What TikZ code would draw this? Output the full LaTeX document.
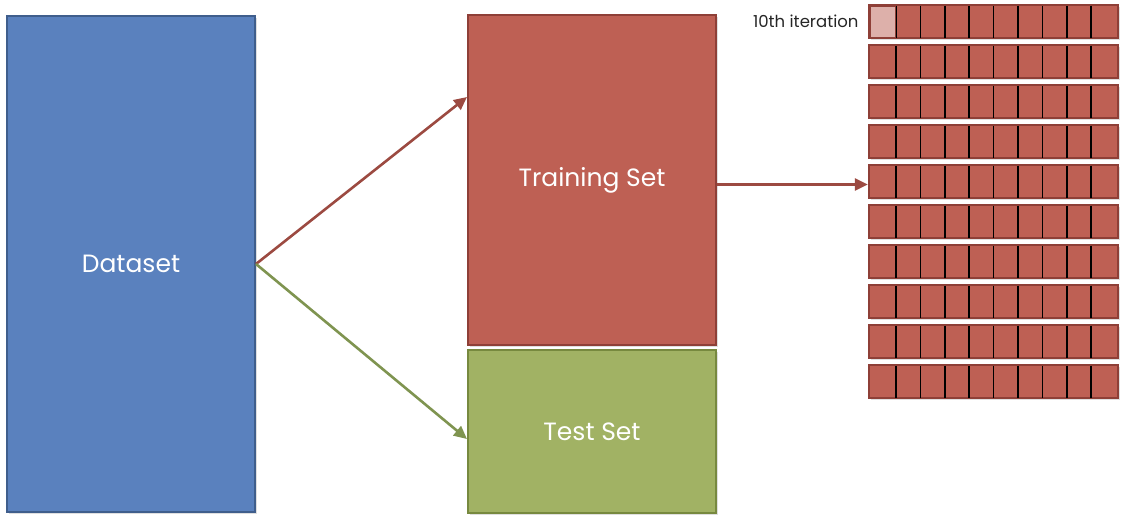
\documentclass[tikz,border=0pt]{standalone}
\usepackage{fontspec}
\setmainfont{Poppins}
\usetikzlibrary{arrows.meta,shadows}
\definecolor{dsfill}{HTML}{5A81BE}
\definecolor{dsline}{HTML}{3F5E8C}
\definecolor{trfill}{HTML}{BE6054}
\definecolor{trline}{HTML}{8E3F37}
\definecolor{tefill}{HTML}{A1B264}
\definecolor{teline}{HTML}{77893F}
\definecolor{redarrow}{HTML}{9C4A41}
\definecolor{greenarrow}{HTML}{7F9450}
\definecolor{pinkcell}{HTML}{DDB0AA}
\begin{document}
\begin{tikzpicture}[x=1pt,y=-1pt,
  bigbox/.style={draw, line width=2.6pt, minimum width=248pt, inner sep=0pt,
    font=\fontsize{25}{30}\selectfont, text=white,
    drop shadow={shadow xshift=1.5pt, shadow yshift=-1.5pt, opacity=0.25}},
  rowbox/.style={draw=trline, fill=trfill, line width=2.4pt, minimum width=249pt, minimum height=33pt, inner sep=0pt,
    drop shadow={shadow xshift=1.5pt, shadow yshift=-1.5pt, opacity=0.25}},
  conn/.style={line width=2.6pt, -{Triangle[length=13pt,width=12pt]}},
  divider/.style={black, line width=1.6pt}]
\useasboundingbox (0,0) rectangle (1124,523);
\node[bigbox, draw=dsline, fill=dsfill, minimum height=496pt] (ds) at (131,264) {Dataset};
\node[bigbox, draw=trline, fill=trfill, minimum height=330pt] (tr) at (592,180) {Training Set};
\node[bigbox, draw=teline, fill=tefill, minimum height=163pt] (te) at (592,431.5) {Test Set};
\coordinate (dsr) at (256,264);
\coordinate (trin) at (467,97);
\coordinate (tein) at (467,439);
\coordinate (trout) at (717,184.5);
\foreach \i in {0,...,9}{
  \node[rowbox] (r\i) at (993.5,{21.5+40*\i}) {};
  \foreach \k in {0,...,8}{
    \draw[divider] ({896+24.4*\k},{21.5+40*\i-16}) -- ({896+24.4*\k},{21.5+40*\i+16});
  }
}
\fill[pinkcell] (870,6) rectangle (895.3,37);
\draw[trline, line width=1pt] (870,6) rectangle (895.3,37);
\node[anchor=east, font=\fontsize{16.5}{19}\selectfont, text=black!85] (lab) at (862,21) {10th iteration};
\draw[conn, redarrow] (dsr) -- (trin);
\draw[conn, greenarrow] (dsr) -- (tein);
\draw[conn, redarrow] (trout) -- (trout -| r4.west);
\end{tikzpicture}
\end{document}
